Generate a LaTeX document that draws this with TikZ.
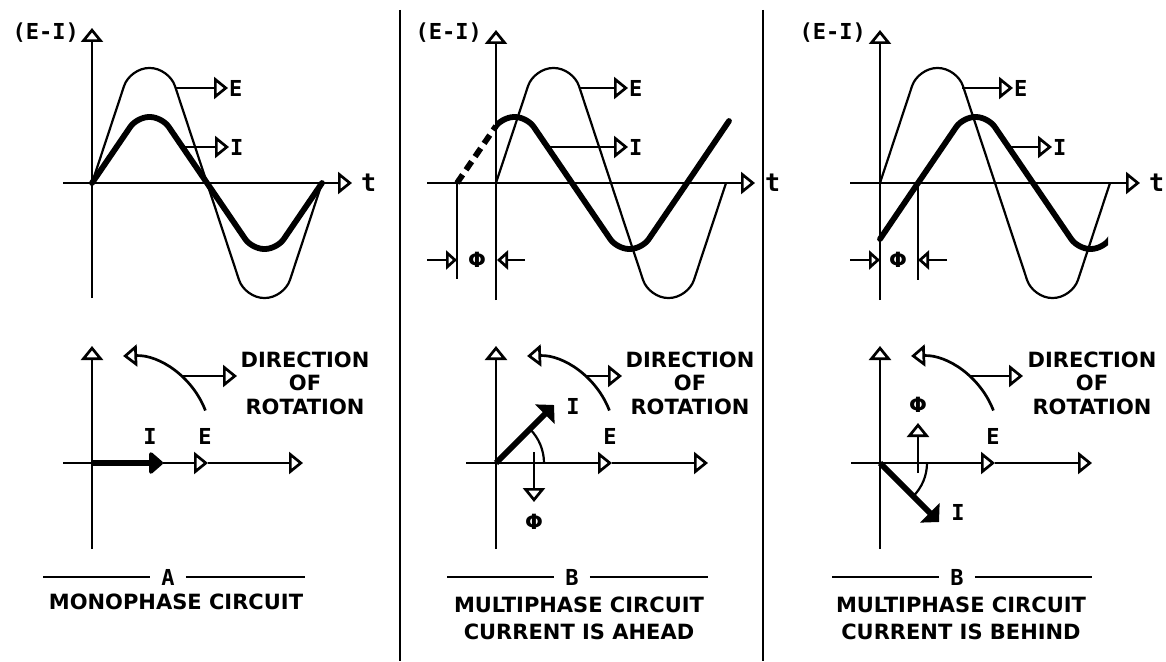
\documentclass[tikz,border=0pt]{standalone}
\usepackage{fontspec}
\setmainfont{DejaVu Sans}
\newfontfamily\lblfont{DejaVu Sans Mono}
\usetikzlibrary{arrows.meta}
\begin{document}
\begin{tikzpicture}[x=1pt,y=-1pt,
  ax/.style={line width=2.7pt},
  ecurve/.style={line width=2.2pt, rounded corners=19pt, line join=round},
  icurve/.style={line width=5.8pt, rounded corners=12pt, line cap=round, line join=round},
  otip/.style={-{Triangle[open,length=14pt,width=22pt]}},
  stip/.style={-{Triangle[open,length=11pt,width=19pt]}},
  ftip/.style={-{Triangle[length=15pt,width=25pt,round]}},
  dtip/.style={-{Triangle[length=13pt,width=27pt]}},
  lab/.style={font=\lblfont\bfseries\fontsize{22}{22}\selectfont, inner sep=1pt},
  tlab/.style={font=\lblfont\bfseries\fontsize{25}{25}\selectfont, inner sep=0pt, anchor=west},
  philab/.style={font=\bfseries\fontsize{21}{21}\selectfont, inner sep=1pt},
  eilab/.style={font=\lblfont\bfseries\fontsize{22}{22}\selectfont, inner sep=0pt, anchor=east},
  caplab/.style={font=\lblfont\bfseries\fontsize{22}{22}\selectfont, inner sep=11pt},
  dirtxt/.style={font=\bfseries\fontsize{21}{23.5}\selectfont, align=center, inner sep=0pt},
  captxt/.style={font=\bfseries\fontsize{21}{27}\selectfont, align=center, inner sep=0pt},
  rule/.style={line width=2.7pt}
]
\useasboundingbox (0,0) rectangle (1166,661);

% ---------- dividers
\draw[ax] (400,10) coordinate (D1t) -- (400,661) coordinate (D1b);
\draw[ax] (763,10) coordinate (D2t) -- (763,661) coordinate (D2b);

% ================= PANEL A (top)
\coordinate (Ao) at (92,183);
\coordinate (Aybot) at (92,298);
\coordinate (Aytop) at (92,28);
\coordinate (Atst) at (63,183);
\coordinate (Attip) at (352,183);
\draw[ax, otip] (Aybot) -- (Aytop);
\draw[ax, otip] (Atst) -- (Attip);
\node[eilab] (AEI) at (79,33) {(E-I)};
\node[tlab] (Atl) at (361,183) {t};
\draw[ecurve] (92,183) -- (130,68) -- (169,68) -- (207,183) -- (245,298) -- (284,298) -- (322,183);
\draw[icurve] (92,183) -- (137,117) -- (162,117) -- (207,183) -- (252,249) -- (277,249) -- (322,183);
\node[lab, anchor=west] (AE) at (228,88) {E};
\coordinate (AEs) at (175,88);
\draw[ax, otip] (AEs) -- (AE.west);
\node[lab, anchor=west] (AI) at (229,147) {I};
\coordinate (AIs) at (183,147);
\draw[ax, otip] (AIs) -- (AI.west);

% ================= PANEL B (top)
\coordinate (Bo) at (496,183);
\coordinate (Bybot) at (496,300);
\coordinate (Bytop) at (496,30);
\coordinate (Btst) at (427,183);
\coordinate (Bttip) at (755,183);
\draw[ax, otip] (Bybot) -- (Bytop);
\draw[ax, otip] (Btst) -- (Bttip);
\node[eilab] (BEI) at (482,33) {(E-I)};
\node[tlab] (Btl) at (765,183) {t};
\draw[ecurve] (496,183) -- (534,68) -- (573,68) -- (611,183) -- (649,298) -- (688,298) -- (726,183);
\begin{scope}
  \clip (496,0) rectangle (760,661);
  \draw[icurve] (457,183) -- (502,117) -- (527,117) -- (572,183) -- (617,249) -- (642,249) -- (687,183) -- (729,121);
\end{scope}
\draw[line width=5.8pt, dash pattern=on 10pt off 6pt] (457,183) -- (496,126);
\node[lab, anchor=west] (BE) at (628,88) {E};
\coordinate (BEs) at (579,88);
\draw[ax, otip] (BEs) -- (BE.west);
\node[lab, anchor=west] (BI) at (628,147) {I};
\coordinate (BIs) at (548,147);
\draw[ax, otip] (BIs) -- (BI.west);
% phi
\coordinate (Bph1) at (457,183);
\coordinate (Bph2) at (457,279);
\draw[ax] (Bph1) -- (Bph2);
\node[philab] (Bphi) at (477,260) {Φ};
\coordinate (Bpl) at (427,260);
\coordinate (Bplt) at (457,260);
\coordinate (Bpr) at (525,260);
\coordinate (Bprt) at (497,260);
\draw[ax, stip] (Bpl) -- (Bplt);
\draw[ax, stip] (Bpr) -- (Bprt);

% ================= PANEL C (top)
\coordinate (Co) at (880,183);
\coordinate (Cybot) at (880,300);
\coordinate (Cytop) at (880,30);
\coordinate (Ctst) at (850,183);
\coordinate (Cttip) at (1140,183);
\draw[ax, otip] (Cybot) -- (Cytop);
\draw[ax, otip] (Ctst) -- (Cttip);
\node[eilab] (CEI) at (866,33) {(E-I)};
\node[tlab] (Ctl) at (1149,183) {t};
\draw[ecurve] (880,183) -- (918,68) -- (957,68) -- (995,183) -- (1033,298) -- (1072,298) -- (1110,183);
\begin{scope}
  \clip (860,0) rectangle (1108,661);
  \draw[icurve] (880,239) -- (918,183) -- (963,117) -- (988,117) -- (1033,183) -- (1078,249) -- (1103,249) -- (1148,183);
\end{scope}
\node[lab, anchor=west] (CE) at (1013,88) {E};
\coordinate (CEs) at (962,88);
\draw[ax, otip] (CEs) -- (CE.west);
\node[lab, anchor=west] (CI) at (1052,147) {I};
\coordinate (CIs) at (1009,147);
\draw[ax, otip] (CIs) -- (CI.west);
% phi
\coordinate (Cph1) at (918,183);
\coordinate (Cph2) at (918,280);
\draw[ax] (Cph1) -- (Cph2);
\node[philab] (Cphi) at (898,260) {Φ};
\coordinate (Cpl) at (850,260);
\coordinate (Cplt) at (880,260);
\coordinate (Cpr) at (947,260);
\coordinate (Cprt) at (918,260);
\draw[ax, stip] (Cpl) -- (Cplt);
\draw[ax, stip] (Cpr) -- (Cprt);

% ================= bottom phasor diagrams (common parts)
\foreach \ax/\dx/\nm in {92/237/A, 496/622/B, 880/1023/C}{
  \draw[ax, otip] (\ax,549) -- (\ax,346);
  \draw[ax, otip] ({\ax+113.4},410.5) arc[start angle=21, end angle=92, radius=85pt];
  \draw[ax, otip] ({\ax+88.8},376) -- (\dx,376);
}

% ---- A bottom
\draw[ax] (63,463) -- (92,463);
\coordinate (Ao2) at (92,463);
\coordinate (AIt) at (163,463);
\coordinate (AEt) at (208,463);
\coordinate (AXt) at (303,463);
\draw[line width=5.8pt, ftip] (Ao2) -- (AIt);
\draw[ax, otip] (AIt) -- (AEt);
\draw[ax, otip] (AEt) -- (AXt);
\node[lab] (AIb) at (150,436) {I};
\node[lab] (AEb) at (205,436) {E};
\node[dirtxt] (Adir) at (305,383) {DIRECTION\\OF\\ROTATION};

% ---- B bottom
\coordinate (Bo2) at (496,463);
\coordinate (BEt) at (612,463);
\coordinate (BXt) at (708,463);
\draw[ax, otip] (466,463) -- (BEt);
\draw[ax, otip] (BEt) -- (BXt);
\coordinate (BIt) at (554,405);
\draw[line width=5.8pt, dtip] (Bo2) -- (BIt);
\draw[line width=2.2pt] (544,463) arc[start angle=0, end angle=45, radius=48pt];
\draw[ax, otip] (534,452) -- (534,502);
\node[philab] (Bphib) at (534,522) {Φ};
\node[lab] (BIb) at (573,406) {I};
\node[lab] (BEb) at (610,436) {E};
\node[dirtxt] (Bdir) at (690,383) {DIRECTION\\OF\\ROTATION};

% ---- C bottom
\coordinate (Co2) at (880,463);
\coordinate (CEt) at (995,463);
\coordinate (CXt) at (1092,463);
\draw[ax, otip] (851,463) -- (CEt);
\draw[ax, otip] (CEt) -- (CXt);
\coordinate (CIt) at (939,522);
\draw[line width=5.8pt, dtip] (Co2) -- (CIt);
\draw[line width=2.2pt] (927,463) arc[start angle=0, end angle=-45, radius=47pt];
\draw[ax, otip] (918,473) -- (918,423);
\node[philab] (Cphib) at (918,405) {Φ};
\node[lab] (CIb) at (958,512) {I};
\node[lab] (CEb) at (993,436) {E};
\node[dirtxt] (Cdir) at (1092,383) {DIRECTION\\OF\\ROTATION};

% ================= captions
\node[caplab] (Acap) at (168,577) {A};
\draw[rule] (43,577) -- (Acap.west);
\draw[rule] (Acap.east) -- (305,577);
\node[captxt] (Atxt) at (176,602) {MONOPHASE CIRCUIT};

\node[caplab] (Bcap) at (572,577) {B};
\draw[rule] (447,577) -- (Bcap.west);
\draw[rule] (Bcap.east) -- (708,577);
\node[captxt] (Btxt) at (579,618.5) {MULTIPHASE CIRCUIT\\CURRENT IS AHEAD};

\node[caplab] (Ccap) at (957,577) {B};
\draw[rule] (832,577) -- (Ccap.west);
\draw[rule] (Ccap.east) -- (1092,577);
\node[captxt] (Ctxt) at (961,618.5) {MULTIPHASE CIRCUIT\\CURRENT IS BEHIND};
\end{tikzpicture}
\end{document}
